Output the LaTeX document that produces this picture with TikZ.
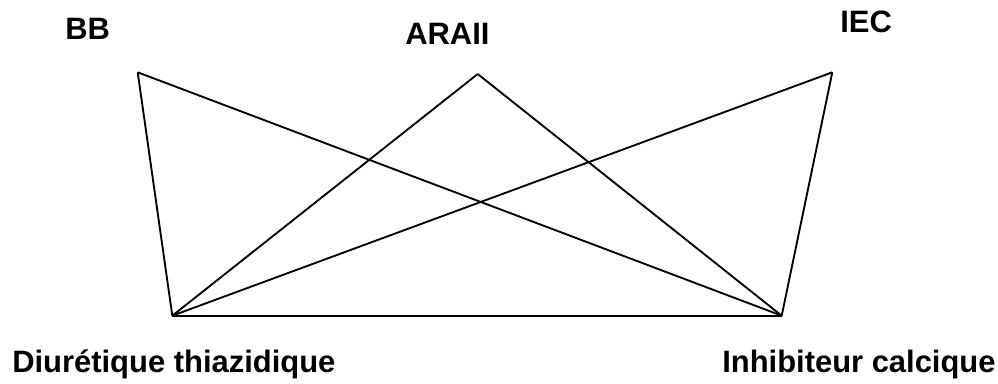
\documentclass[tikz,border=0pt]{standalone}
\usepackage{fontspec}
\setmainfont{Liberation Sans}
\begin{document}
\begin{tikzpicture}[x=0.75pt,y=-0.75pt,
  lbl/.style={inner sep=0pt,anchor=base west,font=\fontsize{23.2}{28}\selectfont\bfseries},
  edge/.style={draw=black,line width=1.4pt,line join=miter}]
\useasboundingbox (0,0) rectangle (998,383);
\coordinate (bb) at (137.7,72.3);
\coordinate (ar) at (477.7,74);
\coordinate (iec) at (832.3,72.3);
\coordinate (dt) at (172.3,315.7);
\coordinate (ic) at (781.7,315.7);
\node[lbl] (lbb) at (65,39) {BB};
\node[lbl] (lar) at (405,44) {ARAII};
\node[lbl] (liec) at (840,32) {IEC};
\node[lbl] (ldt) at (12,372) {Diurétique thiazidique};
\node[lbl] (lic) at (722,372) {Inhibiteur calcique};
\draw[edge] (bb) -- (dt);
\draw[edge] (bb) -- (ic);
\draw[edge] (ar) -- (dt);
\draw[edge] (ar) -- (ic);
\draw[edge] (iec) -- (dt);
\draw[edge] (iec) -- (ic);
\draw[edge] (dt) -- (ic);
\end{tikzpicture}
\end{document}
